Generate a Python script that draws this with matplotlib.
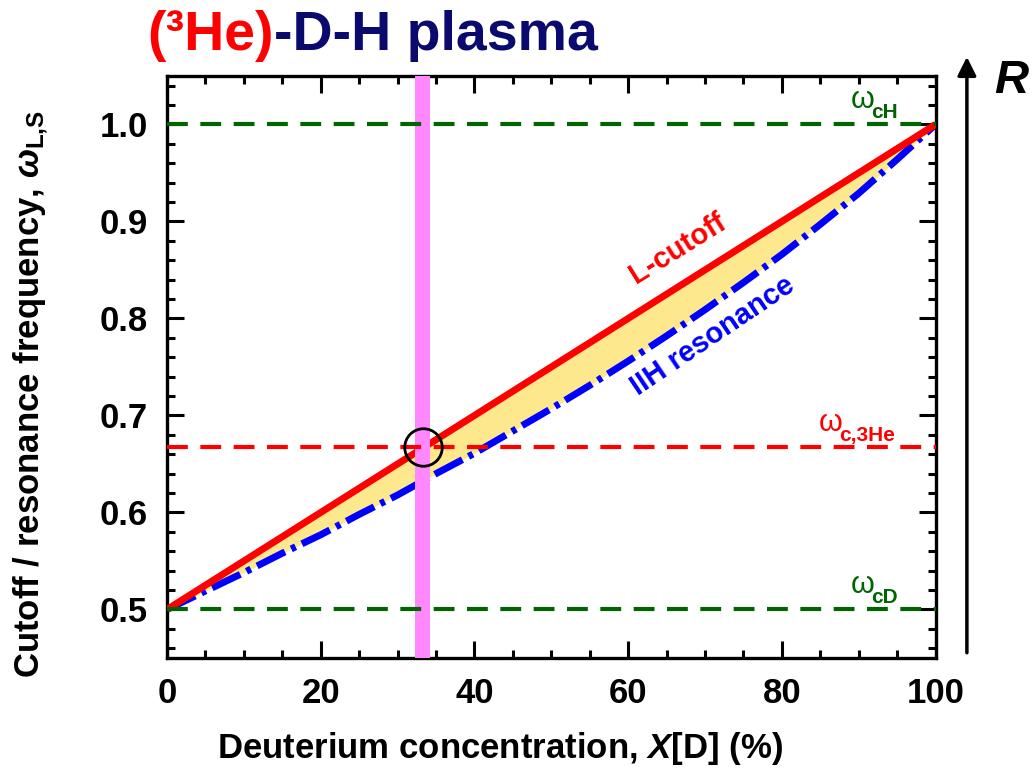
import numpy as np
import matplotlib.pyplot as plt

plt.rcParams['font.family'] = ['Liberation Sans', 'DejaVu Sans']
plt.rcParams['font.weight'] = 'bold'
plt.rcParams['mathtext.fontset'] = 'custom'
plt.rcParams['mathtext.rm'] = 'Liberation Sans:bold'
plt.rcParams['mathtext.bf'] = 'Liberation Sans:bold'
plt.rcParams['mathtext.it'] = 'Liberation Sans:italic'

# deuterium concentration (%)
x_d = [0, 5, 10, 15, 20, 25, 30, 35, 40, 45, 50, 55, 60, 65, 70, 75, 80, 85, 90, 95, 100]
# L-cutoff, normalised to omega_cH
l_cutoff = [0.500, 0.525, 0.550, 0.575, 0.600, 0.625, 0.650, 0.675, 0.700, 0.725, 0.750,
            0.775, 0.800, 0.825, 0.850, 0.875, 0.900, 0.925, 0.950, 0.975, 1.000]
# ion-ion hybrid resonance
iih_res = [0.500, 0.519, 0.538, 0.558, 0.577, 0.598, 0.618, 0.640, 0.661, 0.684, 0.707,
           0.731, 0.756, 0.782, 0.809, 0.837, 0.866, 0.897, 0.929, 0.964, 1.000]

w_ch = 1.0
w_cd = 0.5
w_c3he = 0.667
x_3he = 33.3
band = [32.3, 34.2]

fig = plt.figure(figsize=(10.33, 7.73), dpi=100)
ax = fig.add_axes([0.1617, 0.1488, 0.744, 0.753])

ax.fill_between(x_d, iih_res, l_cutoff, color='#fde88e', lw=0, zorder=1)
ax.plot(x_d, iih_res, color='#0000ff', lw=5, dashes=[4.5, 1.0, 0.7, 1.0], zorder=2)
ax.plot(x_d, l_cutoff, color='#ff0000', lw=5, zorder=3, solid_capstyle='butt')

ax.axvspan(band[0], band[1], color='#ff88ff', lw=0, zorder=4)

ax.axhline(w_ch, color='#006400', lw=3, dashes=[5, 3], zorder=5)
ax.axhline(w_cd, color='#006400', lw=3, dashes=[5, 3], zorder=5)
ax.axhline(w_c3he, color='#ff0000', lw=3, dashes=[5, 3], zorder=5)

ax.plot([x_3he], [w_c3he], 'o', ms=27, mfc='none', mec='black', mew=2.0, zorder=6)


def omega_label(x, y, sub, color):
    # plain omega followed by a bold subscript, baselines given above the line
    ax.text(x, y + 0.017, 'ω', color=color, fontsize=22, fontweight='normal', va='baseline')
    ax.text(x + 2.6, y + 0.0065, sub, color=color, fontsize=15, fontweight='bold', va='baseline')


omega_label(89.0, w_ch, 'cH', '#006400')
omega_label(84.8, w_c3he, 'c,3He', '#ff0000')
omega_label(89.0, w_cd, 'cD', '#006400')

ax.text(66.5, 0.872, 'L-cutoff', color='#ff0000', fontsize=21, fontweight='bold',
        rotation=32, ha='center', va='center', rotation_mode='anchor')
ax.text(71.0, 0.782, 'IIH resonance', color='#0000ff', fontsize=21, fontweight='bold',
        rotation=34, ha='center', va='center', rotation_mode='anchor')

ax.set_xlim(0, 100)
ax.set_ylim(0.45, 1.05)
ax.set_xticks([0, 20, 40, 60, 80, 100])
ax.set_xticks(np.arange(0, 101, 5), minor=True)
ax.set_yticks([0.5, 0.6, 0.7, 0.8, 0.9, 1.0])
ax.set_yticks(np.arange(0.46, 1.05, 0.02), minor=True)
ax.set_yticklabels(['0.5', '0.6', '0.7', '0.8', '0.9', '1.0'])
ax.tick_params(which='both', direction='in', top=True, right=True, width=2.2, labelsize=25, pad=14)
ax.tick_params(which='major', length=12)
ax.tick_params(which='minor', length=6)
for s in ax.spines.values():
    s.set_linewidth(2.4)

fig.text(0.484, 0.032, r'Deuterium concentration, $\mathit{X}$[D] (%)', fontsize=25,
         fontweight='bold', ha='center', va='center')
fig.text(0.030, 0.49, r'Cutoff / resonance frequency, $\mathit{\omega}_{\mathbf{L{,}S}}$', fontsize=25,
         fontweight='bold', rotation=90, ha='center', va='center')

# title in two colours
t1 = fig.text(0.143, 0.953, '(³He)', color='#ff0000', fontsize=40, fontweight='bold', va='center')
fig.canvas.draw()
bb = t1.get_window_extent()
x_end = fig.transFigure.inverted().transform((bb.x1, bb.y0))[0]
fig.text(x_end, 0.953, '-D-H plasma', color='#0a0a6e', fontsize=40, fontweight='bold', va='center')

# R direction arrow
ax.annotate('', xy=(0.936, 0.93), xycoords='figure fraction',
            xytext=(0.936, 0.152), textcoords='figure fraction',
            arrowprops=dict(arrowstyle='-|>', color='black', lw=2.5, mutation_scale=28))
fig.text(0.962, 0.895, 'R', fontsize=34, fontweight='bold', fontstyle='italic', va='center')

fig.savefig('out.png', dpi=100)
